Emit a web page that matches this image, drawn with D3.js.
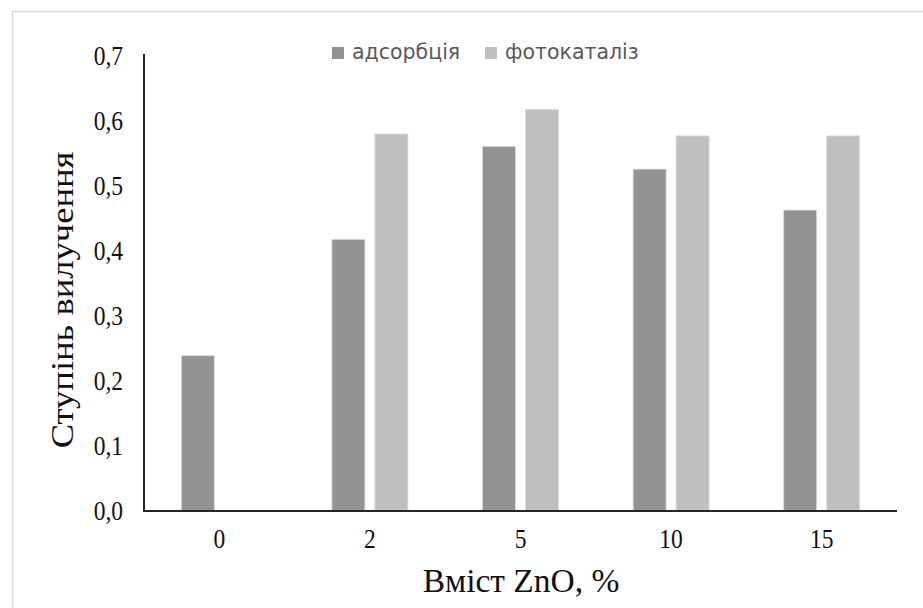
<!DOCTYPE html>
<html><head><meta charset="utf-8">
<script src="https://cdn.jsdelivr.net/npm/d3@7/dist/d3.min.js"></script>
<style>html,body{margin:0;padding:0;background:#fff;}svg{display:block;}</style>
</head><body>
<svg id="chart" width="923" height="608"></svg>
<script>
const categories = ["0", "2", "5", "10", "15"];
const seriesNames = ["адсорбція", "фотокаталіз"];
const adsorption = [0.239, 0.418, 0.561, 0.526, 0.463];
const photocatalysis = [null, 0.580, 0.618, 0.577, 0.577];
const yTicks = [0, 0.1, 0.2, 0.3, 0.4, 0.5, 0.6, 0.7];
const colors = ["#939393", "#bfbfbf"];
const yTitle = "Ступінь вилучення";
const xTitle = "Вміст ZnO, %";

const SY = 1.14; // vertical stretch of the reference picture
const svg = d3.select("#chart");
svg.append("rect").attr("x", 12.5).attr("y", 11.5).attr("width", 1000).attr("height", 700)
  .attr("fill", "#fff").attr("stroke", "#d9d9d9").attr("stroke-width", 1.5);

const x0 = d3.scaleBand().domain(categories).range([144, 897]).paddingInner(0).paddingOuter(0);
const x1 = d3.scaleBand().domain(seriesNames).range([0, 76]).paddingInner(0.2326);
const y = d3.scaleLinear().domain([0, 0.7]).range([511, 56]);

const values = [adsorption, photocatalysis];
const data = [];
categories.forEach((c, i) => seriesNames.forEach((s, j) => {
  if (values[j][i] != null) data.push({c, s, v: values[j][i], j});
}));

svg.append("g").selectAll("rect").data(data).join("rect")
  .attr("x", d => x0(d.c) + x0.bandwidth() / 2 - 38 + x1(d.s))
  .attr("y", d => y(d.v))
  .attr("width", x1.bandwidth())
  .attr("height", d => y(0) - y(d.v))
  .attr("fill", d => colors[d.j])
  .attr("stroke", "#dcdcdc").attr("stroke-width", 0.8);

const fmt = v => d3.format(".1f")(v).replace(".", ",");
const serif = "'Liberation Serif','Times New Roman',serif";

// y axis
const yAxis = d3.axisLeft(y).tickValues(yTicks).tickSize(0).tickPadding(0).tickFormat(fmt);
const gy = svg.append("g").attr("transform", "translate(144,0)").call(yAxis);
gy.select(".domain").attr("stroke", "#262626").attr("stroke-width", 2).attr("d", "M0,54V511");
gy.selectAll(".tick text").attr("x", 0).attr("dy", null)
  .attr("font-family", serif).attr("font-size", 23.5).attr("fill", "#111")
  .attr("text-anchor", "end")
  .attr("transform", "translate(-21,8) scale(1," + SY + ")");

// x axis
const xAxis = d3.axisBottom(x0).tickSize(0).tickPadding(0);
const gx = svg.append("g").attr("transform", "translate(0,511)").call(xAxis);
gx.select(".domain").attr("stroke", "#262626").attr("stroke-width", 2).attr("d", "M143,0H897");
gx.selectAll(".tick text").attr("y", 0).attr("dy", null)
  .attr("font-family", serif).attr("font-size", 23.5).attr("fill", "#111")
  .attr("transform", "translate(0,37) scale(1," + SY + ")");

// titles
svg.append("text").attr("transform", "translate(521,592) scale(1,1.03)")
  .attr("text-anchor", "middle").attr("font-family", serif).attr("font-size", 33.5)
  .attr("fill", "#111").text(xTitle);
svg.append("text").attr("transform", "translate(73,300) rotate(-90) scale(1.18,1)")
  .attr("text-anchor", "middle").attr("font-family", serif).attr("font-size", 31)
  .attr("fill", "#111").text(yTitle);

// legend
const legX = [332, 485];
const lg = svg.append("g").selectAll("g").data(seriesNames).join("g")
  .attr("transform", (d, i) => `translate(${legX[i]},0)`);
lg.append("rect").attr("x", 0).attr("y", 47).attr("width", 12).attr("height", 12)
  .attr("fill", (d, i) => colors[i]);
lg.append("text").attr("x", 20).attr("y", 59)
  .attr("font-family", "'DejaVu Sans',sans-serif").attr("font-size", 20.5)
  .attr("fill", "#595959").text(d => d);
</script>
</body></html>
